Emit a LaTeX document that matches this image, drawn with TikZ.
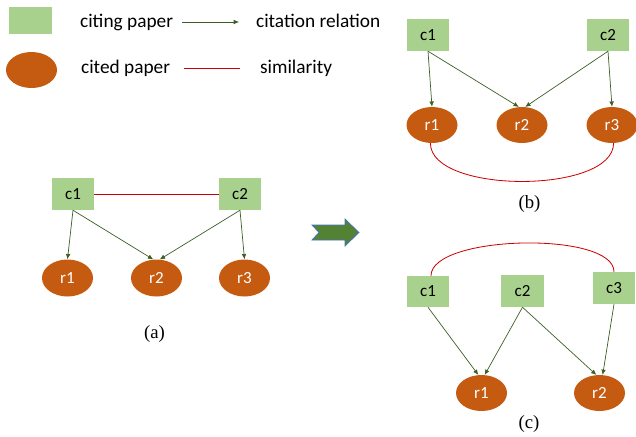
\documentclass[tikz,border=0pt]{standalone}
\usepackage{fontspec}
\setmainfont{Carlito}
\newfontfamily\capfont{Liberation Serif}
\definecolor{CitingGreen}{RGB}{169,209,142}
\definecolor{CitedOrange}{RGB}{197,90,17}
\definecolor{LinkGreen}{RGB}{60,95,38}
\definecolor{SimRed}{RGB}{204,0,0}
\definecolor{ShiftGreen}{RGB}{84,130,53}
\definecolor{ShiftBlue}{RGB}{68,114,196}
\usetikzlibrary{arrows.meta, shapes.geometric, positioning}

\begin{document}
\begin{tikzpicture}[x=0.03cm, y=-0.03cm,
	citing/.style={rectangle, fill=CitingGreen, minimum width=1.26cm, minimum height=0.96cm, inner sep=0pt, font=\fontsize{14.5}{16}\selectfont},
	cited/.style={ellipse, fill=CitedOrange, text=white, minimum width=1.53cm, minimum height=1.11cm, inner sep=0pt, font=\fontsize{14.5}{16}\selectfont},
	cites/.style={-{Latex[length=4.5pt,width=4pt]}, draw=LinkGreen, line width=0.6pt},
	similar/.style={draw=SimRed, line width=0.7pt},
	legtext/.style={anchor=base west, font=\fontsize{16.5}{19}\selectfont},
	caption/.style={font=\capfont\fontsize{16}{18}\selectfont}]
	\useasboundingbox (0,0) rectangle (636,436);

	% legend
	\node[citing, minimum width=1.29cm, minimum height=0.81cm] (legcit) at (30.5,20.5) {};
	\node[cited, minimum width=1.53cm, minimum height=1.08cm] (legref) at (31.5,70) {};
	\node[legtext] (legcittxt) at (76,27) {citing paper};
	\node[legtext] (legreftxt) at (77,73) {cited paper};
	\node[legtext] (legarrtxt) at (252,27) {citation relation};
	\node[legtext] (legsimtxt) at (256,73) {similarity};
	\coordinate (legarra) at (182,22);
	\coordinate (legarrb) at (239,22);
	\coordinate (legsima) at (184,68);
	\coordinate (legsimb) at (240,68);
	\draw[cites] (legarra) -- (legarrb);
	\draw[similar] (legsima) -- (legsimb);

	% (a)
	\node[citing] (ac1) at (73,194) {c1};
	\node[citing] (ac2) at (240,194) {c2};
	\foreach \n/\x in {1/67.5, 2/156.5, 3/244.5}
		\node[cited] (ar\n) at (\x,278) {r\n};
	\draw[similar] (ac1.east) -- (ac2.west);
	\draw[cites] (ac1.south) -- (ar1.north);
	\draw[cites] (ac1.south) -- (ar2.100);
	\draw[cites] (ac2.south) -- (ar2.80);
	\draw[cites] (ac2.south) -- (ar3.north);
	\node[caption] (capa) at (154.5,334) {(a)};

	% (b)
	\node[citing] (bc1) at (428,35) {c1};
	\node[citing] (bc2) at (608,35) {c2};
	\foreach \n/\x in {1/432, 2/522, 3/612}
		\node[cited, minimum height=1.08cm] (br\n) at (\x,125) {r\n};
	\draw[cites] (bc1.south) -- (br1.north);
	\draw[cites] (bc1.south) -- (br2.100);
	\draw[cites] (bc2.south) -- (br2.80);
	\draw[cites] (bc2.south) -- (br3.north);
	\draw[similar] (br1.265) .. controls +(0,51) and +(0,51) .. (br3.275);
	\node[caption] (capb) at (529.5,204) {(b)};

	% shift arrow
	\draw[fill=ShiftGreen, draw=ShiftBlue, line width=0.6pt]
		(312,225) -- (345,225) -- (345,219) -- (359,232.5) -- (345,246)
		-- (345,240) -- (312,240) -- (319,232.5) -- cycle;

	% (c)
	\node[citing, minimum height=0.93cm] (cc1) at (428,291.5) {c1};
	\node[citing, minimum width=1.29cm] (cc2) at (522.5,291) {c2};
	\node[citing] (cc3) at (614,288) {c3};
	\foreach \n/\x in {1/481.5, 2/599.5}
		\node[cited, minimum height=1.08cm] (cr\n) at (\x,393) {r\n};
	\draw[cites] (cc1.south) -- (cr1.100);
	\draw[cites] (cc2.south) -- (cr1.80);
	\draw[cites] (cc2.south) -- (cr2.100);
	\draw[cites] (cc3.south) -- (cr2.80);
	\draw[similar] ([xshift=0.09cm]cc1.north) .. controls +(0,-41) and +(0,-41) .. (cc3.north);
	\node[caption] (capc) at (529,423.5) {(c)};
\end{tikzpicture}
\end{document}
